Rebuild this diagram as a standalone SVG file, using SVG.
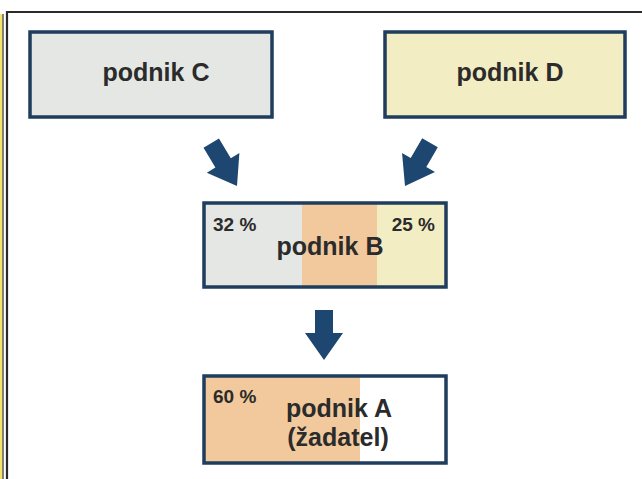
<svg xmlns="http://www.w3.org/2000/svg" width="642" height="479" viewBox="0 0 642 479">
<defs>
<style>
.box{stroke:#1f3d5c;stroke-width:3.5}
.open{fill:none}
.gray{fill:#e5e7e4}
.yel{fill:#f3edc4}
.org{fill:#f2c99c}
.lbl{font-family:"Liberation Sans",Arial,sans-serif;font-weight:bold;fill:#2b2b2b}
.big{font-size:25px}
.pct{font-size:19px}
.arr{fill:#1d4670}
</style>
<path id="arrowShape" d="M0,0 L-19,-27 L-9,-27 L-9,-50 L9,-50 L9,-27 L19,-27 Z"/>
</defs>
<rect x="0" y="0" width="642" height="479" fill="#ffffff"/>
<g id="frame">
<rect x="0" y="14" width="2.5" height="465" fill="#f5e66a"/>
<line x1="3" y1="14" x2="3" y2="479" stroke="#333" stroke-width="1.2"/>
<path d="M7,479 L7,12 L642,12" fill="none" stroke="#2a2a2a" stroke-width="2.2"/>
</g>
<g id="nodeC">
<rect x="30" y="32" width="242" height="85" class="box gray"/>
<text x="156" y="81" text-anchor="middle" class="lbl big">podnik C</text>
</g>
<g id="nodeD">
<rect x="385" y="32" width="240" height="85" class="box yel"/>
<text x="510" y="81" text-anchor="middle" class="lbl big">podnik D</text>
</g>
<g id="nodeB">
<rect x="204" y="203" width="98" height="84" class="gray"/>
<rect x="302" y="203" width="75" height="84" class="org"/>
<rect x="377" y="203" width="69" height="84" class="yel"/>
<rect x="204" y="203" width="242" height="84" class="box open"/>
<text x="213" y="231" class="lbl pct">32 %</text>
<text x="435" y="231" text-anchor="end" class="lbl pct">25 %</text>
<text x="330" y="255" text-anchor="middle" class="lbl big">podnik B</text>
</g>
<g id="nodeA">
<rect x="204" y="376" width="156" height="87" class="org"/>
<rect x="360" y="376" width="86" height="87" fill="#ffffff"/>
<rect x="204" y="376" width="242" height="87" class="box open"/>
<text x="213" y="403" class="lbl pct">60 %</text>
<text x="339" y="417" text-anchor="middle" class="lbl big">podnik A</text>
<text x="338" y="446" text-anchor="middle" class="lbl big">(žadatel)</text>
</g>
<g id="connectors">
<use href="#arrowShape" class="arr" transform="translate(237,186) rotate(-31)"/>
<use href="#arrowShape" class="arr" transform="translate(405,186) rotate(30)"/>
<use href="#arrowShape" class="arr" transform="translate(324,360)"/>
</g>
</svg>
